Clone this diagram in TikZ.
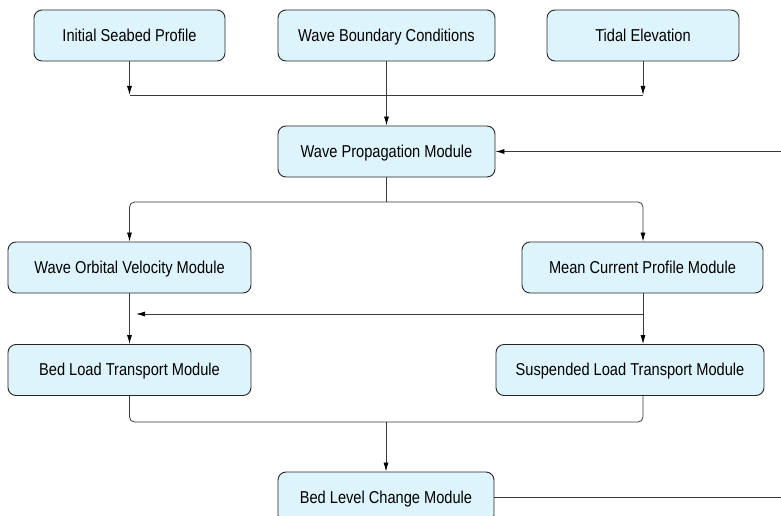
\documentclass[tikz,border=0pt]{standalone}
\usepackage{fontspec}
\setmainfont{Liberation Sans}[FakeStretch=0.85]
\usepackage{tikz}
\usetikzlibrary{arrows.meta,calc}
\definecolor{boxfill}{HTML}{DDF4FC}
\definecolor{linegray}{HTML}{3A3A3A}

\begin{document}
\begin{tikzpicture}[x=1pt,y=1pt,
    box/.style={draw=black!85,line width=0.9pt,fill=boxfill,rounded corners=8pt,
      minimum height=51pt,inner sep=0pt,text height=14pt,text depth=2.5pt,
      font=\fontsize{17.2}{19}\selectfont},
    wire/.style={draw=linegray,line width=0.8pt},
    arr/.style={wire,-{Latex[length=9pt,width=5pt,color=black]}}]
    \useasboundingbox (0,0) rectangle (781,-516);
    % inputs
    \node[box,minimum width=191pt](isp) at (129.5,-35.5){Initial Seabed Profile};
    \node[box,minimum width=217pt](wbc) at (386.5,-35.5){Wave Boundary Conditions};
    \node[box,minimum width=192pt](tide) at (643,-35.5){Tidal Elevation};
    % modules
    \node[box,minimum width=217pt](wpm) at (386.5,-151.5){Wave Propagation Module};
    \node[box,minimum width=243pt](wov) at (129.5,-267.5){Wave Orbital Velocity Module};
    \node[box,minimum width=241pt](mcp) at (642.5,-267.5){Mean Current Profile Module};
    \node[box,minimum width=243pt](blt) at (129.5,-370){Bed Load Transport Module};
    \node[box,minimum width=268pt](slt) at (630,-370){Suspended Load Transport Module};
    \node[box,minimum width=216pt](blc) at (386,-497.5){Bed Level Change Module};
    % connectors
    \coordinate (inl) at (129.5,-95);
    \coordinate (inr) at (643,-95);
    \draw[arr](isp.south)--(inl);
    \draw[arr](tide.south)--(inr);
    \draw[wire](inl)--(inr);
    \draw[arr](wbc.south)--(wpm.north);
    \coordinate (split) at (386.5,-202);
    \draw[wire](wpm.south)--(split);
    \draw[arr,rounded corners=5pt](split)-|(wov.north);
    \draw[arr,rounded corners=5pt](split)-|(mcp.north -| inr);
    \draw[arr](wov.south)--(blt.north);
    \draw[arr](mcp.south -| inr)--(slt.north -| inr);
    \coordinate (cross) at (643,-314);
    \coordinate (crossend) at (136,-314);
    \draw[arr](cross)--(crossend);
    \coordinate (merge) at (386,-422);
    \draw[wire,rounded corners=5pt](blt.south)|-(merge)-|(slt.south -| inr);
    \draw[arr](merge)--(blc.north);
    % feedback
    \coordinate (fb) at (784,-497.5);
    \draw[arr](blc.east)--(fb)|-(wpm.east);
\end{tikzpicture}
\end{document}
